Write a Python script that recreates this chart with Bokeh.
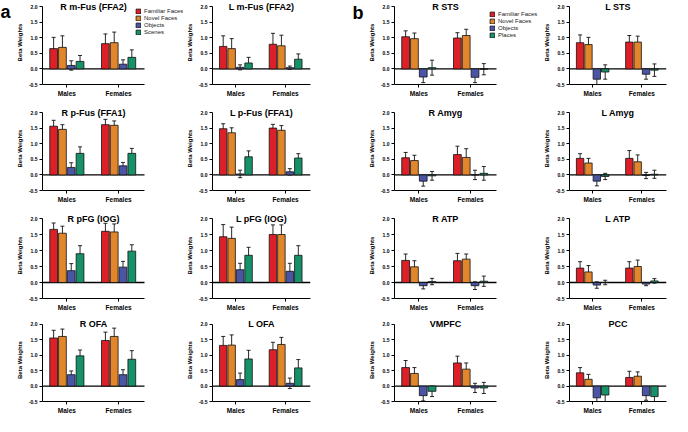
from bokeh.plotting import figure
from bokeh.models import (ColumnDataSource, Whisker, TeeHead, Label, Legend,
                          LegendItem, FixedTicker, PrintfTickFormatter)
from bokeh.core.properties import value
from bokeh.layouts import row, column
from bokeh.embed import file_html
from bokeh.resources import INLINE

# ---------------- data ----------------
GROUPS = ["Males", "Females"]
GROUP_X = [1, 3]
COND_A = ["Familiar Faces", "Novel Faces", "Objects", "Scenes"]
COND_B = ["Familiar Faces", "Novel Faces", "Objects", "Places"]
Y_TICKS = [-0.5, 0.0, 0.5, 1.0, 1.5, 2.0]
PANEL_LETTERS = ["a", "b"]

# each: [Males values, Females values] in condition order
R_MFUS_MEAN = [[0.65, 0.69, 0.11, 0.24], [0.81, 0.84, 0.15, 0.37]]
R_MFUS_ERR = [[0.36, 0.37, 0.15, 0.19], [0.31, 0.34, 0.14, 0.24]]
L_MFUS_MEAN = [[0.72, 0.65, 0.05, 0.19], [0.79, 0.74, 0.04, 0.31]]
L_MFUS_ERR = [[0.34, 0.32, 0.08, 0.18], [0.35, 0.34, 0.05, 0.17]]
R_PFUS_MEAN = [[1.56, 1.46, 0.24, 0.69], [1.61, 1.59, 0.29, 0.69]]
R_PFUS_ERR = [[0.19, 0.15, 0.15, 0.21], [0.17, 0.14, 0.11, 0.16]]
L_PFUS_MEAN = [[1.48, 1.35, 0.03, 0.58], [1.50, 1.43, 0.10, 0.54]]
L_PFUS_ERR = [[0.16, 0.16, 0.12, 0.19], [0.12, 0.15, 0.10, 0.14]]
R_PFG_MEAN = [[1.66, 1.54, 0.37, 0.90], [1.60, 1.58, 0.48, 0.98]]
R_PFG_ERR = [[0.20, 0.22, 0.22, 0.25], [0.25, 0.25, 0.18, 0.20]]
L_PFG_MEAN = [[1.43, 1.38, 0.40, 0.85], [1.50, 1.50, 0.35, 0.85]]
L_PFG_ERR = [[0.38, 0.35, 0.20, 0.25], [0.30, 0.30, 0.25, 0.30]]
R_OFA_MEAN = [[1.56, 1.61, 0.37, 0.98], [1.48, 1.61, 0.37, 0.87]]
R_OFA_ERR = [[0.25, 0.24, 0.12, 0.19], [0.27, 0.27, 0.16, 0.28]]
L_OFA_MEAN = [[1.32, 1.33, 0.21, 0.88], [1.18, 1.35, 0.09, 0.59]]
L_OFA_ERR = [[0.29, 0.33, 0.21, 0.28], [0.24, 0.23, 0.17, 0.27]]

R_STS_MEAN = [[1.03, 0.97, -0.26, 0.04], [0.99, 1.07, -0.27, -0.01]]
R_STS_ERR = [[0.19, 0.18, 0.18, 0.24], [0.17, 0.20, 0.17, 0.18]]
L_STS_MEAN = [[0.84, 0.78, -0.33, -0.10], [0.86, 0.86, -0.17, -0.04]]
L_STS_ERR = [[0.25, 0.23, 0.20, 0.23], [0.21, 0.19, 0.16, 0.20]]
R_AMYG_MEAN = [[0.55, 0.46, -0.20, -0.03], [0.65, 0.56, 0.00, 0.05]]
R_AMYG_ERR = [[0.17, 0.17, 0.16, 0.14], [0.27, 0.28, 0.15, 0.22]]
L_AMYG_MEAN = [[0.53, 0.38, -0.20, -0.05], [0.53, 0.42, -0.02, 0.02]]
L_AMYG_ERR = [[0.15, 0.15, 0.15, 0.10], [0.25, 0.22, 0.10, 0.13]]
R_ATP_MEAN = [[0.69, 0.49, -0.10, 0.03], [0.68, 0.73, -0.10, 0.04]]
R_ATP_ERR = [[0.20, 0.19, 0.10, 0.10], [0.23, 0.16, 0.12, 0.16]]
L_ATP_MEAN = [[0.45, 0.33, -0.08, 0.00], [0.45, 0.50, -0.05, 0.05]]
L_ATP_ERR = [[0.20, 0.20, 0.10, 0.07], [0.20, 0.20, 0.05, 0.07]]
VMPFC_MEAN = [[0.60, 0.41, -0.31, -0.17], [0.75, 0.55, -0.06, -0.06]]
VMPFC_ERR = [[0.23, 0.19, 0.17, 0.17], [0.22, 0.20, 0.15, 0.18]]
PCC_MEAN = [[0.43, 0.22, -0.38, -0.29], [0.28, 0.32, -0.31, -0.34]]
PCC_ERR = [[0.17, 0.16, 0.20, 0.25], [0.20, 0.14, 0.15, 0.17]]

# ---------------- style / layout ----------------
COLORS = ["#dd2027", "#e2862c", "#4a55a6", "#17916a"]
FONT = "Liberation Sans"
OFFSETS = [-0.51, -0.17, 0.17, 0.51]
BAR_W = 0.30
X0, X1 = 0.06, 4.0
Y0, Y1 = -0.5, 2.0
PLOT_W = 102      # px of the bar area
TOP_PAD = 6       # px of frame above the 2.0 line (room for panel titles)

# per column: (left border, right extension of frame for legend, right border)
COLS = [(42, 39, 0), (25, 0, 40), (44, 44, 0), (24, 0, 6)]
LETTER_W = [12, 0, 14, 0]
# per row: (plot height px for -0.5..2.0, bottom border)
ROWS = [(78, 22), (78, 22), (80, 20), (78, 14)]


def panel(title, mean, err, conds, col, rw, legend_loc=None, left_trim=0):
    left, ext, right = COLS[col]
    ph, bottom = ROWS[rw]
    xpp = (X1 - X0) / PLOT_W
    ypp = (Y1 - Y0) / ph
    frame_w = PLOT_W + ext
    fh = ph + TOP_PAD
    p = figure(width=left - left_trim + frame_w + right, height=fh + bottom,
               x_range=(X0, X1 + ext * xpp), y_range=(Y0, Y1 + TOP_PAD * ypp),
               output_backend="svg", toolbar_location=None,
               min_border_left=left - left_trim, min_border_right=right,
               min_border_top=0, min_border_bottom=bottom)
    p.outline_line_color = None
    p.xgrid.visible = False
    p.ygrid.visible = False

    # zero line across the bar area
    p.segment(x0=[X0], x1=[X1], y0=[0], y1=[0], line_color="black", line_width=1.4)

    items = []
    for k, c in enumerate(conds):
        xs = [g + OFFSETS[k] for g in GROUP_X]
        tops = [mean[0][k], mean[1][k]]
        errs = [err[0][k], err[1][k]]
        src = ColumnDataSource(dict(x=xs, top=tops,
                                    upper=[t + e for t, e in zip(tops, errs)],
                                    lower=[t - e for t, e in zip(tops, errs)]))
        r = p.vbar(x="x", top="top", bottom=0, width=BAR_W, source=src,
                   fill_color=COLORS[k], line_color="#111111", line_width=0.8)
        w = Whisker(base="x", upper="upper", lower="lower", source=src,
                    line_color="#111111", line_width=0.9,
                    upper_head=TeeHead(size=4, line_width=0.9, line_color="#111111"),
                    lower_head=TeeHead(size=4, line_width=0.9, line_color="#111111"))
        p.add_layout(w)
        items.append(LegendItem(label=c, renderers=[r]))

    yax = p.yaxis[0]
    yax.bounds = (Y0, Y1)
    yax.ticker = FixedTicker(ticks=Y_TICKS, minor_ticks=[])
    yax.formatter = PrintfTickFormatter(format="%.1f")
    yax.axis_label = "Beta Weights"
    yax.axis_label_text_font = FONT
    yax.axis_label_text_font_size = "6px"
    yax.axis_label_text_font_style = "bold"
    yax.axis_label_standoff = 3
    yax.major_label_text_font = FONT
    yax.major_label_text_font_size = "5px"
    yax.major_label_text_font_style = "bold"
    yax.major_label_standoff = 2

    xax = p.xaxis[0]
    xax.bounds = (X0, X1)
    xax.ticker = FixedTicker(ticks=GROUP_X, minor_ticks=[])
    xax.major_label_overrides = {GROUP_X[0]: GROUPS[0], GROUP_X[1]: GROUPS[1]}
    xax.major_label_text_font = FONT
    xax.major_label_text_font_size = "6.5px"
    xax.major_label_text_font_style = "bold"
    xax.major_label_standoff = 2

    for ax in (xax, yax):
        ax.axis_line_color = "black"
        ax.axis_line_width = 1
        ax.major_tick_line_color = "black"
        ax.major_tick_in = 0
        ax.major_tick_out = 3
        ax.minor_tick_line_color = None
        ax.major_label_text_color = "black"
        ax.axis_label_text_color = "black"

    p.add_layout(Label(x=(X0 + X1) / 2, y=Y1, text=title,
                       text_align="center", text_baseline="middle",
                       text_font=FONT, text_font_size="9px", text_font_style="bold",
                       text_color="black"))

    if legend_loc is not None:
        lg = Legend(items=items, location=legend_loc, orientation="vertical",
                    label_text_font=FONT, label_text_font_size="6px",
                    label_text_color="#222222",
                    glyph_width=6, glyph_height=6, label_height=6, label_width=10,
                    label_standoff=3, spacing=1, padding=0, margin=0,
                    border_line_color=None, background_fill_alpha=0)
        p.add_layout(lg)
    return p


def letter_fig(text, w, h, x, baseline):
    f = figure(width=w, height=h, x_range=(0, w), y_range=(0, h),
               x_axis_location=None, y_axis_location=None,
               output_backend="svg", toolbar_location=None,
               min_border_left=0, min_border_right=0, min_border_top=0, min_border_bottom=0)
    f.outline_line_color = None
    f.xgrid.visible = False
    f.ygrid.visible = False
    f.text(x=[x], y=[h - baseline], text=[text], text_align="left",
           text_baseline="alphabetic", text_font=value(FONT), text_font_size="18px",
           text_font_style="bold", text_color="black")
    return f


H1 = ROWS[0][0] + TOP_PAD + ROWS[0][1]

row1 = row(
    letter_fig(PANEL_LETTERS[0], LETTER_W[0], H1, 0, 15),
    panel("R m-Fus (FFA2)", R_MFUS_MEAN, R_MFUS_ERR, COND_A, 0, 0, legend_loc=(93, 49),
          left_trim=LETTER_W[0]),
    panel("L m-Fus (FFA2)", L_MFUS_MEAN, L_MFUS_ERR, COND_A, 1, 0),
    letter_fig(PANEL_LETTERS[1], LETTER_W[2], H1, 2, 16),
    panel("R STS", R_STS_MEAN, R_STS_ERR, COND_B, 2, 0, legend_loc=(95, 46),
          left_trim=LETTER_W[2]),
    panel("L STS", L_STS_MEAN, L_STS_ERR, COND_B, 3, 0),
    spacing=0)
row2 = row(
    panel("R p-Fus (FFA1)", R_PFUS_MEAN, R_PFUS_ERR, COND_A, 0, 1),
    panel("L p-Fus (FFA1)", L_PFUS_MEAN, L_PFUS_ERR, COND_A, 1, 1),
    panel("R Amyg", R_AMYG_MEAN, R_AMYG_ERR, COND_B, 2, 1),
    panel("L Amyg", L_AMYG_MEAN, L_AMYG_ERR, COND_B, 3, 1),
    spacing=0)
row3 = row(
    panel("R pFG (IOG)", R_PFG_MEAN, R_PFG_ERR, COND_A, 0, 2),
    panel("L pFG (IOG)", L_PFG_MEAN, L_PFG_ERR, COND_A, 1, 2),
    panel("R ATP", R_ATP_MEAN, R_ATP_ERR, COND_B, 2, 2),
    panel("L ATP", L_ATP_MEAN, L_ATP_ERR, COND_B, 3, 2),
    spacing=0)
row4 = row(
    panel("R OFA", R_OFA_MEAN, R_OFA_ERR, COND_A, 0, 3),
    panel("L OFA", L_OFA_MEAN, L_OFA_ERR, COND_A, 1, 3),
    panel("VMPFC", VMPFC_MEAN, VMPFC_ERR, COND_B, 2, 3),
    panel("PCC", PCC_MEAN, PCC_ERR, COND_B, 3, 3),
    spacing=0)

layout = column(row1, row2, row3, row4, spacing=0)
open("out.html", "w").write(file_html(layout, INLINE))
